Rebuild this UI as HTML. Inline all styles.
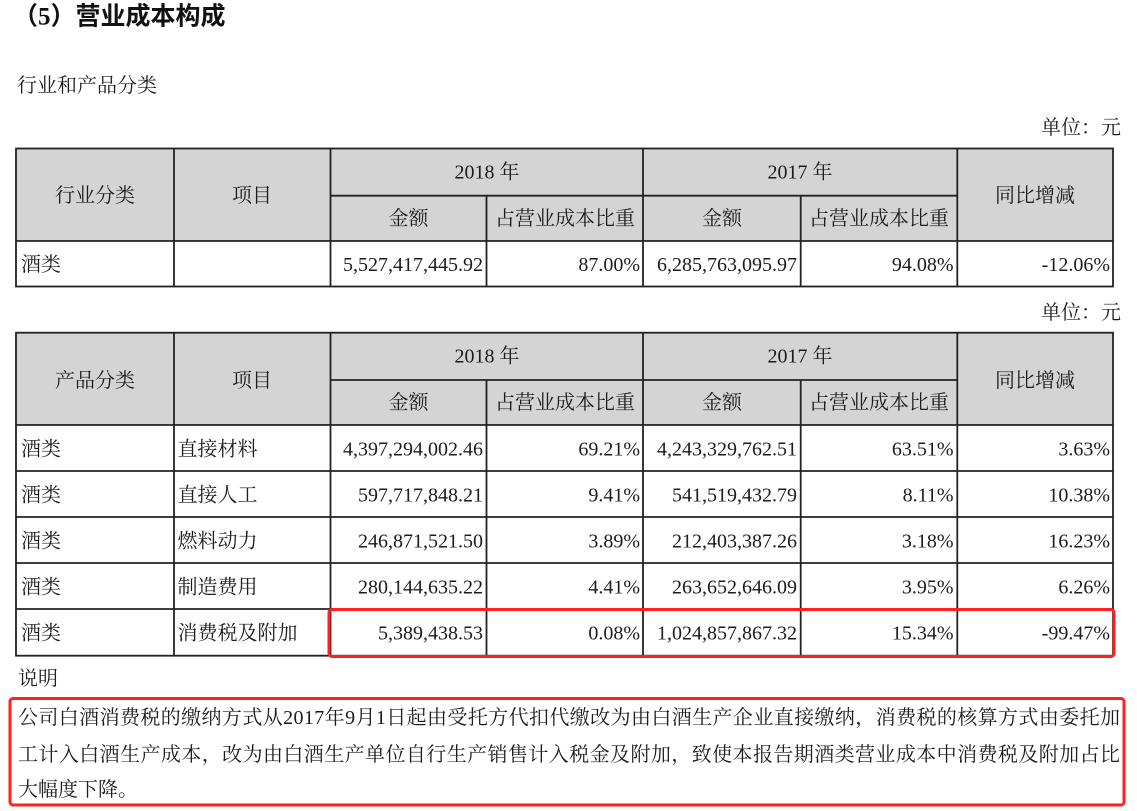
<!DOCTYPE html>
<html><head><meta charset="utf-8">
<style>
html,body{margin:0;padding:0;background:#fff;}
svg{display:block;}
text{font-family:"Liberation Serif","Noto Serif CJK SC",serif;fill:#1c1c1c;font-size:20px;dominant-baseline:central;}
.t{font-family:"Liberation Serif","Noto Sans CJK SC",sans-serif;font-weight:bold;font-size:25px;fill:#111;}
.m{text-anchor:middle;}
.e{text-anchor:end;}
</style></head>
<body>
<svg width="1137" height="811" viewBox="0 0 1137 811" xmlns="http://www.w3.org/2000/svg">
<text class="t" x="13" y="17">（5）营业成本构成</text>
<text x="17" y="86">行业和产品分类</text>
<text class="e" x="1121" y="128">单位：元</text>

<!-- Table 1 -->
<rect x="16" y="148.5" width="1097" height="92.5" fill="#d4d4d4"/>
<g stroke="#222" stroke-width="1.8" fill="none">
<rect x="16" y="148.5" width="1097" height="138"/>
<line x1="330.5" y1="195.7" x2="957.3" y2="195.7"/>
<line x1="16" y1="241" x2="1113" y2="241"/>
<line x1="174" y1="148.5" x2="174" y2="286.5"/>
<line x1="330.5" y1="148.5" x2="330.5" y2="286.5"/>
<line x1="486.5" y1="195.7" x2="486.5" y2="286.5"/>
<line x1="643" y1="148.5" x2="643" y2="286.5"/>
<line x1="800.7" y1="195.7" x2="800.7" y2="286.5"/>
<line x1="957.3" y1="148.5" x2="957.3" y2="286.5"/>
</g>
<text class="m" x="95" y="196">行业分类</text>
<text class="m" x="252" y="196">项目</text>
<text class="m" x="487" y="172.5">2018 年</text>
<text class="m" x="800" y="172.5">2017 年</text>
<text class="m" x="1035" y="196">同比增减</text>
<text class="m" x="408.5" y="219">金额</text>
<text class="m" x="565" y="219">占营业成本比重</text>
<text class="m" x="722" y="219">金额</text>
<text class="m" x="879" y="219">占营业成本比重</text>
<text x="21" y="265">酒类</text>
<text class="e" x="483" y="265">5,527,417,445.92</text>
<text class="e" x="640" y="265">87.00%</text>
<text class="e" x="797" y="265">6,285,763,095.97</text>
<text class="e" x="953.5" y="265">94.08%</text>
<text class="e" x="1110" y="265">-12.06%</text>

<text class="e" x="1121" y="313">单位：元</text>

<!-- Table 2 -->
<rect x="16" y="332.7" width="1097" height="92.3" fill="#d4d4d4"/>
<g stroke="#222" stroke-width="1.8" fill="none">
<rect x="16" y="332.7" width="1097" height="323"/>
<line x1="330.5" y1="380" x2="957.3" y2="380"/>
<line x1="16" y1="425" x2="1113" y2="425"/>
<line x1="16" y1="471" x2="1113" y2="471"/>
<line x1="16" y1="517" x2="1113" y2="517"/>
<line x1="16" y1="563" x2="1113" y2="563"/>
<line x1="16" y1="609" x2="1113" y2="609"/>
<line x1="174" y1="332.7" x2="174" y2="655.7"/>
<line x1="330.5" y1="332.7" x2="330.5" y2="655.7"/>
<line x1="486.5" y1="380" x2="486.5" y2="655.7"/>
<line x1="643" y1="332.7" x2="643" y2="655.7"/>
<line x1="800.7" y1="380" x2="800.7" y2="655.7"/>
<line x1="957.3" y1="332.7" x2="957.3" y2="655.7"/>
</g>
<text class="m" x="95" y="381">产品分类</text>
<text class="m" x="252" y="381">项目</text>
<text class="m" x="487" y="356.5">2018 年</text>
<text class="m" x="800" y="356.5">2017 年</text>
<text class="m" x="1035" y="381">同比增减</text>
<text class="m" x="408.5" y="403">金额</text>
<text class="m" x="565" y="403">占营业成本比重</text>
<text class="m" x="722" y="403">金额</text>
<text class="m" x="879" y="403">占营业成本比重</text>

<text x="21" y="449.5">酒类</text>
<text x="177.5" y="449.5">直接材料</text>
<text class="e" x="483" y="449.5">4,397,294,002.46</text>
<text class="e" x="640" y="449.5">69.21%</text>
<text class="e" x="797" y="449.5">4,243,329,762.51</text>
<text class="e" x="953.5" y="449.5">63.51%</text>
<text class="e" x="1110" y="449.5">3.63%</text>

<text x="21" y="495.5">酒类</text>
<text x="177.5" y="495.5">直接人工</text>
<text class="e" x="483" y="495.5">597,717,848.21</text>
<text class="e" x="640" y="495.5">9.41%</text>
<text class="e" x="797" y="495.5">541,519,432.79</text>
<text class="e" x="953.5" y="495.5">8.11%</text>
<text class="e" x="1110" y="495.5">10.38%</text>

<text x="21" y="541.5">酒类</text>
<text x="177.5" y="541.5">燃料动力</text>
<text class="e" x="483" y="541.5">246,871,521.50</text>
<text class="e" x="640" y="541.5">3.89%</text>
<text class="e" x="797" y="541.5">212,403,387.26</text>
<text class="e" x="953.5" y="541.5">3.18%</text>
<text class="e" x="1110" y="541.5">16.23%</text>

<text x="21" y="587.5">酒类</text>
<text x="177.5" y="587.5">制造费用</text>
<text class="e" x="483" y="587.5">280,144,635.22</text>
<text class="e" x="640" y="587.5">4.41%</text>
<text class="e" x="797" y="587.5">263,652,646.09</text>
<text class="e" x="953.5" y="587.5">3.95%</text>
<text class="e" x="1110" y="587.5">6.26%</text>

<text x="21" y="633.5">酒类</text>
<text x="177.5" y="633.5">消费税及附加</text>
<text class="e" x="483" y="633.5">5,389,438.53</text>
<text class="e" x="640" y="633.5">0.08%</text>
<text class="e" x="797" y="633.5">1,024,857,867.32</text>
<text class="e" x="953.5" y="633.5">15.34%</text>
<text class="e" x="1110" y="633.5">-99.47%</text>

<!-- red highlight boxes -->
<rect x="329" y="609.5" width="785" height="47" rx="3" fill="none" stroke="#ff2020" stroke-width="3"/>

<text x="18" y="679">说明</text>

<rect x="10" y="698.5" width="1114" height="106.5" rx="3" fill="none" stroke="#ff2020" stroke-width="3"/>
<text x="18" y="718" textLength="1102" lengthAdjust="spacing">公司白酒消费税的缴纳方式从2017年9月1日起由受托方代扣代缴改为由白酒生产企业直接缴纳，消费税的核算方式由委托加</text>
<text x="18" y="755" textLength="1102" lengthAdjust="spacing">工计入白酒生产成本，改为由白酒生产单位自行生产销售计入税金及附加，致使本报告期酒类营业成本中消费税及附加占比</text>
<text x="18" y="790">大幅度下降。</text>
</svg>
</body></html>
